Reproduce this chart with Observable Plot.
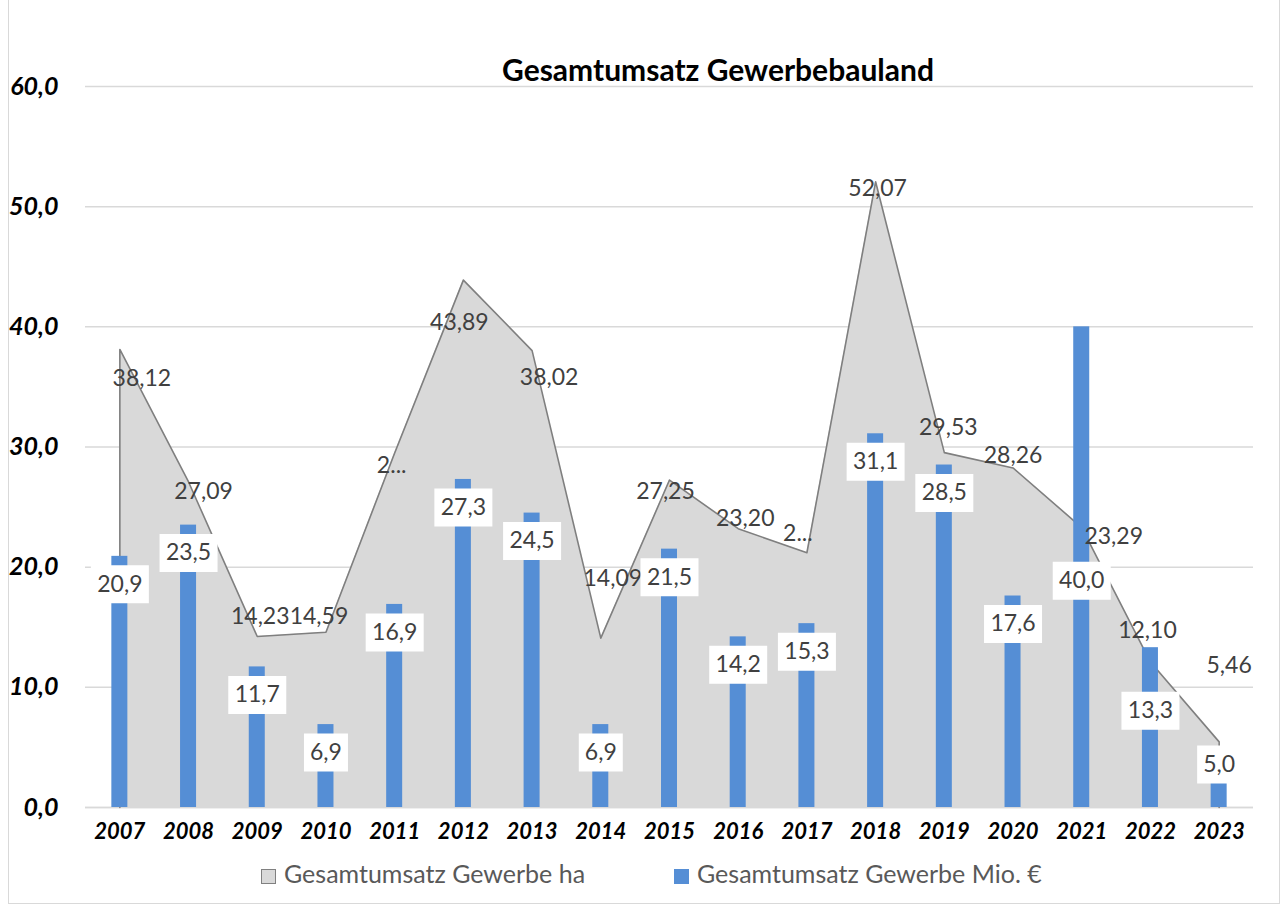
<!DOCTYPE html>
<html><head><meta charset="utf-8">
<script src="https://cdn.jsdelivr.net/npm/d3@7"></script>
<script src="https://cdn.jsdelivr.net/npm/@observablehq/plot@0.6"></script>
<style>
body{margin:0;background:#fff;font-family:Lato,"Open Sans",sans-serif;}
#wrap{position:relative;width:1285px;height:907px;overflow:hidden;}
#frame{position:absolute;left:8px;top:-1px;width:1272px;height:905px;border:1px solid #d9d9d9;box-sizing:border-box;pointer-events:none;}
#title{position:absolute;left:0;width:1436px;top:51px;text-align:center;font:bold 30px Lato,sans-serif;color:#000;}
.leg{position:absolute;top:858px;font:25px Lato,sans-serif;color:#595959;white-space:nowrap;}
.sw{display:inline-block;width:15px;height:15px;vertical-align:-1px;margin-right:8px;box-sizing:border-box;}
#chart{position:absolute;left:0;top:0;}
</style></head>
<body>
<div id="wrap">
<div id="chart"></div>
<div id="title">Gesamtumsatz Gewerbebauland</div>
<div class="leg" style="left:261px"><span class="sw" style="background:#d9d9d9;border:1.5px solid #808080"></span>Gesamtumsatz Gewerbe ha</div>
<div class="leg" style="left:674px"><span class="sw" style="background:#558ed5"></span>Gesamtumsatz Gewerbe Mio. €</div>
<div id="frame"></div>
</div>
<script>
const years = [2007,2008,2009,2010,2011,2012,2013,2014,2015,2016,2017,2018,2019,2020,2021,2022,2023];
const yearLabels = ["2007","2008","2009","2010","2011","2012","2013","2014","2015","2016","2017","2018","2019","2020","2021","2022","2023"];
const haValues = [38.12,27.09,14.23,14.59,29.5,43.89,38.02,14.09,27.25,23.20,21.2,52.07,29.53,28.26,23.29,12.10,5.46];
const haLabels = ["38,12","27,09","14,23","14,59","2...","43,89","38,02","14,09","27,25","23,20","2...","52,07","29,53","28,26","23,29","12,10","5,46"];
const mioValues = [20.9,23.5,11.7,6.9,16.9,27.3,24.5,6.9,21.5,14.2,15.3,31.1,28.5,17.6,40.0,13.3,5.0];
const mioLabels = ["20,9","23,5","11,7","6,9","16,9","27,3","24,5","6,9","21,5","14,2","15,3","31,1","28,5","17,6","40,0","13,3","5,0"];
const yTicks = [0,10,20,30,40,50,60];
const yTickLabels = ["0,0","10,0","20,0","30,0","40,0","50,0","60,0"];

// label placement offsets (px), as placed in the original chart
const haLabelOffsets = [[22,29],[15,10],[3,-20],[-7,-16],[-3,13],[-4,43],[17,27],[12,-60],[-4,12],[7,-10],[-9,-19],[2,7],[4,-25],[0,-12],[32,9],[-3,-31],[10,-76]];
const mioLabelDy = {2021:254, 2022:63, 2023:17};
const defaultBarLabelDy = 28;

const haRows = years.map((y,i)=>({year:y, ha:haValues[i], label:haLabels[i]}));
const mioRows = years.map((y,i)=>({year:y, mio:mioValues[i], label:mioLabels[i]}));
const tickRows = yTicks.map((v,i)=>({v, label:yTickLabels[i]}));
const outline = [{year:years[0], ha:0}, ...haRows, {year:years[years.length-1], ha:0}];
const halfBar = 0.1165;

const labelFont = {fontSize:23, fill:"#404040", fontFamily:"Lato, sans-serif"};

// rectangular "symbol" used as white label background; half-width given by r
const boxSymbol = {draw(ctx, size){ const w = Math.sqrt(size/Math.PI); ctx.moveTo(-w,-19); ctx.lineTo(w,-19); ctx.lineTo(w,19); ctx.lineTo(-w,19); ctx.closePath(); }};
const boxHalf = d => d.label.length <= 3 ? 22 : 29;

const groupsByDy = [[defaultBarLabelDy, mioRows.filter(d=>!(d.year in mioLabelDy))],
  ...Object.entries(mioLabelDy).map(([yr,dy])=>[dy, mioRows.filter(d=>d.year===+yr)])];

const barLabelMarks = groupsByDy.flatMap(([dy, rows])=>[
  Plot.dot(rows, {x:"year", y:"mio", dy, r:boxHalf, symbol:boxSymbol, fill:"#fff", stroke:null}),
  Plot.text(rows, {x:"year", y:"mio", text:"label", dy, ...labelFont})
]);

const marks = [
  Plot.ruleY(yTicks, {stroke:"#d9d9d9", strokeWidth:1.5}),
  Plot.areaY(haRows, {x:"year", y:"ha", fill:"#d9d9d9"}),
  Plot.ruleY([0], {stroke:"#d9d9d9", strokeWidth:1.5}),
  Plot.line(outline, {x:"year", y:"ha", stroke:"#7f7f7f", strokeWidth:1.6}),
  Plot.rectY(mioRows, {x1:d=>d.year-halfBar, x2:d=>d.year+halfBar, y:"mio", fill:"#558ed5"}),
  ...haRows.map((d,i)=>Plot.text([d], {x:"year", y:"ha", text:"label", dx:haLabelOffsets[i][0], dy:haLabelOffsets[i][1], ...labelFont})),
  ...barLabelMarks,
  Plot.text(tickRows, {y:"v", text:"label", frameAnchor:"left", dx:-27, textAnchor:"end", fontSize:25, fontWeight:"bold", fontStyle:"italic", fill:"#000"}),
  Plot.text(haRows, {x:"year", text:(d,i)=>yearLabels[i], frameAnchor:"bottom", dy:31, fontSize:22, fontWeight:"bold", fontStyle:"italic", fill:"#000"})
];

const chart = Plot.plot({
  width:1285, height:907,
  marginLeft:85, marginRight:32, marginTop:86, marginBottom:100,
  x:{domain:[2006.5,2023.5], axis:null},
  y:{domain:[0,60], axis:null},
  r:{type:"identity"},
  style:{fontFamily:"Lato, sans-serif", background:"transparent", overflow:"visible"},
  marks
});
document.getElementById("chart").appendChild(chart);
</script>
</body></html>
